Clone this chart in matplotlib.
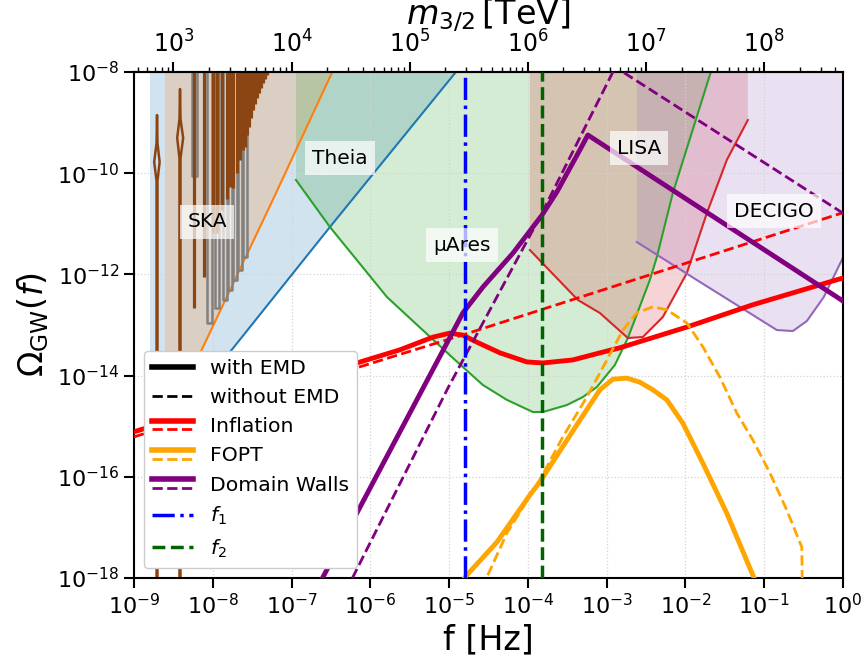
import numpy as np
import matplotlib
matplotlib.use("Agg")
import matplotlib.pyplot as plt
from matplotlib.lines import Line2D
from matplotlib.legend_handler import HandlerBase
from matplotlib.ticker import LogLocator, NullLocator, LogFormatterSciNotation, NullFormatter

# ---------------- data: log10(f/Hz) and log10(Omega_GW) ----------------
theia_logf = [-8.797, -7.731, -6.513, -4.914, -4.5]
theia_logO = [-15.49, -13.435, -11.063, -8.0, -7.2]

ska_logf = [-8.607, -8.124, -7.236, -6.513, -6.3]
ska_logO = [-15.03, -13.435, -10.52, -8.1, -7.4]

muares_logf = [-6.944, -6.513, -5.789, -4.952, -4.571, -4.266, -3.937, -3.810, -3.505, -3.302,
               -3.124, -2.896, -2.731, -2.452, -2.363, -2.160, -1.678, -1.56]
muares_logO = [-10.134, -11.063, -12.447, -13.652, -14.186, -14.48, -14.719, -14.719, -14.581, -14.423,
               -14.225, -13.79, -13.257, -12.111, -11.656, -10.391, -8.0, -7.5]

lisa_logf = [-3.975, -3.365, -3.086, -2.731, -2.541, -2.287, -1.982, -1.728, -1.475, -1.208]
lisa_logO = [-11.518, -12.506, -12.763, -13.257, -13.237, -12.842, -11.972, -10.787, -9.739, -8.949]

decigo_logf = [-2.617, -1.855, -0.840, -0.637, -0.459, -0.244, -0.015, 0.09]
decigo_logO = [-11.36, -12.111, -13.099, -13.119, -12.921, -12.447, -11.715, -11.32]

infl_emd_logf = [-9.0, -6.17, -5.624, -5.206, -4.99, -4.825, -4.647, -4.355, -4.013, -3.81,
                 -3.429, -3.086, -2.832, -1.982, -1.145, 0.0]
infl_emd_logO = [-15.11, -13.75, -13.49, -13.24, -13.16, -13.20, -13.34, -13.55, -13.73, -13.75,
                 -13.69, -13.55, -13.45, -13.04, -12.60, -12.07]
infl_std_logf = [-9.0, -4.774, 0.0]
infl_std_logO = [-15.21, -13.17, -10.78]

fopt_emd_logf = [-4.85, -4.774, -4.393, -3.975, -3.848, -3.34, -3.086, -2.921, -2.744, -2.579,
                 -2.414, -2.236, -2.033, -1.779, -1.475, -1.145, -1.1]
fopt_emd_logO = [-18.1, -17.94, -17.29, -16.36, -16.10, -14.88, -14.28, -14.07, -14.05, -14.13,
                 -14.28, -14.48, -14.94, -15.73, -16.72, -17.94, -18.1]
fopt_std_logf = [-4.6, -4.52, -4.266, -3.848, -3.556, -3.251, -2.997, -2.794, -2.617, -2.414,
                 -2.236, -1.982, -1.779, -1.563, -1.348, -1.145, -0.929, -0.713, -0.523, -0.51]
fopt_std_logO = [-18.2, -17.98, -17.11, -16.06, -15.21, -14.42, -13.69, -13.10, -12.76, -12.64,
                 -12.70, -12.96, -13.43, -14.03, -14.74, -15.27, -15.92, -16.66, -17.39, -19.0]

dw_emd_logf = [-6.75, -6.601, -4.825, -4.571, -4.19, -3.822, -3.632, -3.34, -3.239, -0.015, 0.0]
dw_emd_logO = [-18.42, -17.98, -12.76, -12.25, -11.58, -10.83, -10.37, -9.54, -9.245, -12.51, -12.53]
dw_std_logf = [-6.4, -6.221, -5.015, -3.848, -2.921, -2.86, -2.794, 0.0]
dw_std_logO = [-18.52, -17.98, -14.245, -10.866, -8.0, -7.85, -8.0, -10.79]

f1_log = -4.80
f2_log = -3.826

# SKA-band oscillating spectra (brown peaks rising from below, brown & grey dips from above)
brown_peak1_logf = [-8.714, -8.714, -8.744, -8.714, -8.708, -8.702, -8.675, -8.702, -8.702]
brown_peak1_logO = [-20.0, -10.154, -9.779, -9.403, -8.85, -9.403, -9.779, -10.154, -20.0]
brown_peak2_logf = [-8.423, -8.423, -8.452, -8.423, -8.416, -8.410, -8.376, -8.410, -8.410]
brown_peak2_logO = [-20.0, -9.70, -9.304, -8.929, -8.336, -8.929, -9.304, -9.70, -20.0]
brown_dip_logf = [-8.239, -8.112, -7.997, -7.947, -7.883, -7.820, -7.782, -7.744, -7.693, -7.655,
                  -7.617, -7.591, -7.566, -7.541, -7.515, -7.490, -7.464, -7.439, -7.414, -7.388,
                  -7.363, -7.338, -7.312]
brown_dip_logO = [-12.664, -12.051, -11.182, -11.182, -10.727, -10.51, -10.273, -10.292, -9.996, -9.739,
                  -9.541, -9.482, -9.245, -9.087, -8.909, -8.751, -8.632, -8.514, -8.415, -8.316,
                  -8.217, -8.138, -8.059]
grey_dip_left_logf = [-8.264, -8.074, -7.972, -7.871, -7.807, -7.744, -7.680, -7.617]
grey_dip_right_logf = [-8.201, -8.010, -7.921, -7.820, -7.756, -7.693, -7.629, -7.566]
grey_dip_logO = [-10.055, -12.96, -12.664, -12.506, -12.308, -12.111, -11.913, -11.656]

labels_text = ["SKA", "Theia", "μAres", "LISA", "DECIGO"]
labels_logf = [-8.074, -6.386, -4.838, -2.591, -0.878]
labels_logO = [-10.964, -9.70, -11.419, -9.502, -10.747]


def P(v):
    return 10.0 ** np.asarray(v, dtype=float)


# ---------------- figure ----------------
fig = plt.figure(figsize=(8.68, 6.57), dpi=100)
ax = fig.add_axes([0.1544, 0.1202, 0.9712 - 0.1544, 0.8904 - 0.1202])
ax.set_xscale("log")
ax.set_yscale("log")

# detector sensitivity regions
regions = [(theia_logf, theia_logO, "C0"), (ska_logf, ska_logO, "C1"),
           (muares_logf, muares_logO, "C2"), (lisa_logf, lisa_logO, "C3"),
           (decigo_logf, decigo_logO, "C4")]
for lf, lo, col in regions:
    ax.fill_between(P(lf), P(lo), 1.0, color=col, alpha=0.2, lw=0, zorder=1)
    ax.plot(P(lf), P(lo), color=col, lw=1.5, zorder=2)

# SKA oscillating curves
for gl, gr, gb in zip(grey_dip_left_logf, grey_dip_right_logf, grey_dip_logO):
    ax.plot(P([gl, gl, gr, gr]), P([-7.0, gb, gb, -7.0]), color="gray", lw=1.8, zorder=2)
ax.vlines(P(brown_dip_logf), P(brown_dip_logO), 1e-7, color="saddlebrown", lw=2.3, zorder=2)
ax.plot(P(brown_peak1_logf), P(brown_peak1_logO), color="saddlebrown", lw=1.8, zorder=2)
ax.plot(P(brown_peak2_logf), P(brown_peak2_logO), color="saddlebrown", lw=1.8, zorder=2)

# GW spectra
ax.plot(P(infl_emd_logf), P(infl_emd_logO), color="red", lw=3.5, zorder=4)
ax.plot(P(infl_std_logf), P(infl_std_logO), color="red", lw=2, ls="--", zorder=4)
ax.plot(P(fopt_emd_logf), P(fopt_emd_logO), color="orange", lw=3.5, zorder=4)
ax.plot(P(fopt_std_logf), P(fopt_std_logO), color="orange", lw=2, ls="--", zorder=4)
ax.plot(P(dw_emd_logf), P(dw_emd_logO), color="purple", lw=3.5, zorder=4)
ax.plot(P(dw_std_logf), P(dw_std_logO), color="purple", lw=2, ls="--", zorder=4)

ax.axvline(10 ** f1_log, color="blue", lw=2.5, ls="-.", zorder=4)
ax.axvline(10 ** f2_log, color="darkgreen", lw=2.5, ls="--", zorder=4)

for t, lf, lo in zip(labels_text, labels_logf, labels_logO):
    ax.text(10 ** lf, 10 ** lo, t, fontsize=14.5, ha="center", va="center", zorder=6,
            bbox=dict(facecolor="white", alpha=0.7, edgecolor="none", boxstyle="square,pad=0.35"))

ax.set_xlim(1e-9, 1.0)
ax.set_ylim(1e-18, 1e-8)
ax.set_xticks(P(np.arange(-9, 1)))
ax.set_yticks(P(np.arange(-18, -7, 2)))
ax.xaxis.set_minor_locator(NullLocator())
ax.yaxis.set_minor_locator(NullLocator())
ax.tick_params(axis="both", which="major", labelsize=16, length=7, width=1.5)
for s in ax.spines.values():
    s.set_linewidth(1.5)
ax.grid(True, which="major", ls=":", color="lightgray", lw=0.9)
ax.set_xlabel("f [Hz]", fontsize=24)
ax.set_ylabel(r"$\Omega_{\rm GW}(f)$", fontsize=24)


# top axis: gravitino mass
def f2m(f):
    f = np.asarray(f, dtype=float)
    return (np.clip(f, 1e-300, None) / 1e-13) ** (2.0 / 3.0)


def m2f(m):
    m = np.asarray(m, dtype=float)
    return 1e-13 * np.clip(m, 1e-300, None) ** 1.5


sec = ax.secondary_xaxis("top", functions=(f2m, m2f))
sec.xaxis.set_major_locator(LogLocator(base=10, numticks=20))
sec.xaxis.set_minor_locator(LogLocator(base=10, subs=np.arange(2, 10), numticks=20))
sec.xaxis.set_major_formatter(LogFormatterSciNotation())
sec.xaxis.set_minor_formatter(NullFormatter())
sec.tick_params(axis="x", which="major", labelsize=17, length=7, width=1.5)
sec.tick_params(axis="x", which="minor", length=3.5, width=1.0)
sec.spines["top"].set_linewidth(1.5)
sec.set_xlabel(r"$m_{3/2}\,[\mathrm{TeV}]$", fontsize=24, labelpad=4)


# legend with stacked solid/dashed handles
class DoubleLine:
    def __init__(self, color):
        self.color = color


class HandlerDouble(HandlerBase):
    def create_artists(self, legend, orig_handle, xdescent, ydescent, width, height, fontsize, trans):
        yc = (height - ydescent) / 2.0
        x = [-xdescent, width - xdescent]
        l1 = Line2D(x, [yc + 0.3 * height] * 2, color=orig_handle.color, lw=4)
        l2 = Line2D(x, [yc - 0.3 * height] * 2, color=orig_handle.color, lw=2, ls="--")
        for l in (l1, l2):
            l.set_transform(trans)
        return [l1, l2]


handles = [Line2D([], [], color="black", lw=4),
           Line2D([], [], color="black", lw=2, ls="--"),
           DoubleLine("red"), DoubleLine("orange"), DoubleLine("purple"),
           Line2D([], [], color="blue", lw=2.5, ls="-."),
           Line2D([], [], color="darkgreen", lw=2.5, ls="--")]
names = ["with EMD", "without EMD", "Inflation", "FOPT", "Domain Walls", r"$f_1$", r"$f_2$"]
leg = ax.legend(handles, names, loc="lower left", fontsize=14.7, framealpha=1.0,
                handler_map={DoubleLine: HandlerDouble()})
leg.set_zorder(10)

fig.savefig("out.png", dpi=100)
